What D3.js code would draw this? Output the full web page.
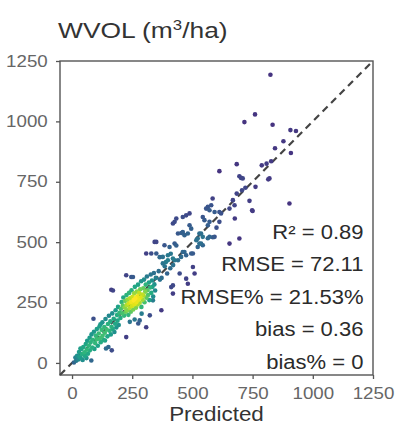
<!DOCTYPE html>
<html>
<head>
<meta charset="utf-8">
<script src="https://cdn.jsdelivr.net/npm/d3@7"></script>
<style>
body { margin: 0; background: #fff; }
text { font-family: "Liberation Sans", Arial, sans-serif; }
</style>
</head>
<body>
<div id="chart"></div>
<script>
const predicted = [
    8, 14, 17, 21, 26, 29, 31, 36, 39, 41, 44, 47, 51, 53, 57, 61, 63, 66, 69, 73,
    74, 77, 81, 84, 86, 91, 93, 96, 99, 80, 89, 60, 35,
    103, 104, 107, 111, 114, 117, 119, 123, 126, 127, 131, 134, 136, 137, 139, 141, 144, 147, 149, 151,
    153, 156, 159, 161, 164, 165, 167, 169, 173, 176, 179, 181, 184, 187, 189, 191, 194, 197, 163, 170, 118,
    201, 203, 206, 209, 211, 213, 216, 219, 221, 223, 226, 227, 225, 229, 231, 234, 236, 237, 239, 241,
    244, 246, 247, 249, 251, 253, 254, 256, 258, 259, 261, 263, 266, 267, 269, 271, 273, 274, 276, 279,
    281, 283, 284, 287, 288, 291, 293, 296, 297, 299, 301, 304, 306, 309, 311, 313, 316, 319, 321, 324,
    327, 329, 332, 334, 337, 340, 342, 345, 348, 246, 225, 308, 329, 343, 350, 289, 323, 275, 281, 308,
    260, 240,
    350, 377, 384, 398, 405, 410, 419, 426, 440, 453, 460, 474, 502, 426, 419, 460, 474, 488, 440, 460,
    495, 488, 543, 550, 571, 564, 612, 529, 543, 522, 516, 529, 543, 571, 592, 654, 584, 578, 564, 557,
    571, 592, 612, 619, 668, 675, 654, 502, 509, 474, 481, 447, 419, 412, 419, 336, 371, 433, 426, 433,
    454, 467, 481, 536, 536, 564, 585, 522, 364, 377, 398, 360, 372, 385, 395, 408, 420, 365, 390, 467,
    495, 612, 676, 684, 684, 695, 695, 600,
    702, 706, 709, 716, 720, 737, 748, 750, 760, 762, 788, 808, 815, 820, 824, 827, 833, 843, 878, 903,
    907, 909, 930
];
const observed = [
    2, 22, 9, 30, 14, 45, 26, 20, 58, 37, 12, 66, 44, 29, 78, 55, 92, 38, 71, 104,
    52, 85, 118, 64, 96, 129, 58, 82, 112, 10, 183, 20, 60,
    140, 98, 71, 122, 151, 103, 86, 137, 168, 112, 95, 149, 125, 93, 182, 60, 138, 110, 161, 66,
    195, 133, 172, 118, 150, 52, 205, 140, 183, 128, 162, 218, 147, 198, 175, 232, 157, 208, 303, 300, 160,
    186, 224, 252, 205, 238, 271, 196, 229, 257, 212, 281, 240, 107, 218, 262, 199, 246, 290, 228, 268,
    212, 252, 301, 236, 274, 356, 221, 260, 288, 243, 315, 268, 229, 251, 296, 276, 242, 324, 262, 289,
    249, 305, 271, 338, 232, 283, 262, 309, 279, 345, 251, 295, 324, 270, 358, 301, 281, 333, 260, 312,
    366, 290, 341, 315, 275, 372, 325, 300, 352, 356, 363, 453, 453, 501, 501, 204, 197, 163, 176, 148,
    180, 170,
    453, 439, 487, 446, 480, 452, 432, 425, 425, 439, 459, 446, 453, 584, 577, 604, 611, 619, 536, 542,
    556, 570, 604, 591, 584, 570, 584, 536, 522, 515, 508, 494, 487, 522, 522, 494, 681, 653, 646, 639,
    632, 625, 625, 619, 674, 653, 639, 397, 370, 349, 328, 370, 321, 314, 287, 259, 218, 598, 494, 486,
    538, 529, 536, 536, 494, 516, 520, 480, 438, 412, 425, 380, 352, 400, 370, 392, 405, 345, 418, 459,
    453, 794, 598, 701, 823, 515, 773, 560,
    766, 715, 764, 997, 725, 671, 632, 629, 1029, 729, 818, 825, 760, 764, 1193, 835, 986, 889, 918, 660,
    964, 869, 960
];

const ticks = [0, 250, 500, 750, 1000, 1250];
const statLabels = ["R\u00b2 = 0.89", "RMSE = 72.11", "RMSE% = 21.53%", "bias = 0.36", "bias% = 0"];

var margin = { top: 61, right: 22, bottom: 50, left: 60 },
    width = 395 - margin.left - margin.right,
    height = 425 - margin.top - margin.bottom;

const stretch = 1.17; // picture text is wider than it is tall

var svgRoot = d3.select("#chart")
    .append("svg")
    .attr("width", 395)
    .attr("height", 425);

var svg = svgRoot.append("g")
    .attr("transform", "translate(" + margin.left + "," + margin.top + ")");

var x = d3.scaleLinear().domain([-50, 1250]).range([0, width]);
var y = d3.scaleLinear().domain([-50, 1250]).range([height, 0]);

// title
var title = svgRoot.append("text")
    .attr("transform", "translate(58,37.5) scale(1.2,1)")
    .style("font-size", "22px")
    .style("fill", "#333");
title.append("tspan").text("WVOL (m");
title.append("tspan").attr("dy", -8).style("font-size", "14px").text("3");
title.append("tspan").attr("dy", 8).text("/ha)");

// axes
var yAxis = svg.append("g")
    .call(d3.axisLeft(y).tickValues(ticks).tickFormat(d3.format("d")).tickSize(4).tickPadding(6.5));
var xAxis = svg.append("g")
    .attr("transform", "translate(0," + height + ")")
    .call(d3.axisBottom(x).tickValues(ticks).tickFormat(d3.format("d")).tickSize(4).tickPadding(9));

[xAxis, yAxis].forEach(function (ax) {
    ax.select(".domain").remove();
    ax.selectAll(".tick line").attr("stroke", "#555").attr("stroke-width", 1.3);
    ax.selectAll(".tick text")
        .attr("transform", "scale(" + stretch + ",1)")
        .style("font-size", "16px")
        .style("fill", "#666");
});

// frame
svg.append("rect")
    .attr("width", width)
    .attr("height", height)
    .attr("fill", "none")
    .attr("stroke", "#555")
    .attr("stroke-width", 1.4);

// 1:1 line
svg.append("line")
    .attr("x1", x(-50)).attr("y1", y(-50))
    .attr("x2", x(1250)).attr("y2", y(1250))
    .attr("stroke", "#444")
    .attr("stroke-width", 2.2)
    .attr("stroke-dasharray", "7,5");

// point density for the colour
var px = predicted.map(function (v) { return x(v); });
var py = observed.map(function (v) { return y(v); });
var s = 8;
var dens = px.map(function (xi, i) {
    var sum = 0;
    for (var j = 0; j < px.length; j++) {
        var dx = xi - px[j], dy = py[i] - py[j];
        sum += Math.exp(-(dx * dx + dy * dy) / (2 * s * s));
    }
    return sum;
});
var dMin = d3.min(dens), dMax = d3.max(dens);
var order = d3.range(px.length).sort(function (a, b) { return dens[a] - dens[b]; });

svg.append("g")
    .selectAll("circle")
    .data(order)
    .enter()
    .append("circle")
    .attr("cx", function (i) { return x(predicted[i]); })
    .attr("cy", function (i) { return y(observed[i]); })
    .attr("r", 2.3)
    .attr("fill", function (i) {
        var t = (dens[i] - dMin) / (dMax - dMin);
        return d3.interpolateViridis(0.15 + 0.85 * Math.pow(t, 1.3));
    });

// stats
svg.append("g")
    .selectAll("text")
    .data(statLabels)
    .enter()
    .append("text")
    .attr("transform", function (d, i) {
        return "translate(" + (363.5 - margin.left) + "," + (239 + i * 32.4 - margin.top) + ") scale(1.13,1)";
    })
    .attr("text-anchor", "end")
    .style("font-size", "19.5px")
    .style("fill", "#2b2b2b")
    .text(function (d) { return d; });

// x label
svgRoot.append("text")
    .attr("transform", "translate(216.5,421) scale(1.15,1)")
    .attr("text-anchor", "middle")
    .style("font-size", "19.5px")
    .style("fill", "#333")
    .text("Predicted");
</script>
</body>
</html>
